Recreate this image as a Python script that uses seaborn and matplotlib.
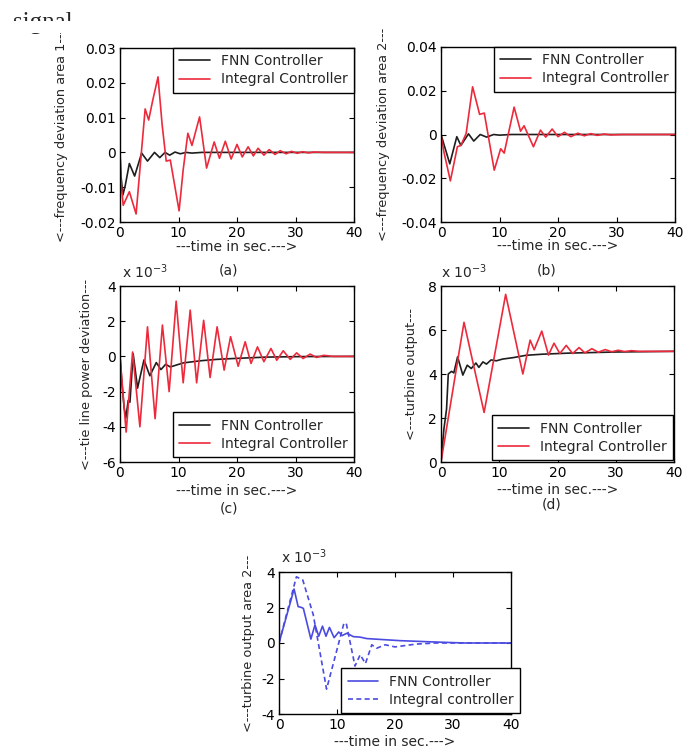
import numpy as np
import pandas as pd
import matplotlib
matplotlib.use("Agg")
import matplotlib.pyplot as plt
import seaborn as sns
from matplotlib.patches import Rectangle

# ---------------- data ----------------
x_ticks = [0, 10, 20, 30, 40]
x_tick_labels = ["0", "10", "20", "30", "40"]

# (a) frequency deviation area 1
a_fnn_t = [0, 0.15, 0.5, 0.9, 1.6, 2.5, 3.7, 4.7, 5.9, 6.8, 7.7, 8.5, 9.4, 10.3, 11.3, 12.3, 14, 40]
a_fnn_y = [0, -0.0065, -0.0122, -0.0095, -0.0032, -0.0068, -0.0002, -0.0025, 0, -0.0015, 0,
           -0.0008, 0.0001, -0.0004, 0, -0.0002, 0, 0]
a_int_t = [0, 0.15, 0.55, 1.6, 2.75, 3.5, 4.3, 4.9, 5.6, 6.5, 7.2, 7.9, 8.6, 9.3, 10.1, 10.8,
           11.6, 12.3, 13.6, 14.8, 16.1, 17.0, 18.0, 19.0, 20.0, 20.9, 21.9, 22.8, 23.6, 24.6,
           25.5, 26.5, 27.4, 28.4, 29.3, 30.3, 31.2, 32.2, 33.1, 35, 40]
a_int_y = [0, -0.008, -0.0152, -0.0113, -0.0177, -0.003, 0.0125, 0.0093, 0.015, 0.0217, 0.008,
           -0.0025, -0.0022, -0.009, -0.0168, -0.005, 0.0055, 0.002, 0.0102, -0.0045, 0.003,
           -0.0017, 0.0032, -0.0019, 0.0023, -0.0013, 0.0016, -0.001, 0.0012, -0.0008, 0.0008,
           -0.0006, 0.0005, -0.0004, 0.0003, -0.00025, 0.0002, -0.00015, 0.0001, 0, 0]
a_yticks = [-0.02, -0.01, 0, 0.01, 0.02, 0.03]
a_ytick_labels = ["-0.02", "-0.01", "0", "0.01", "0.02", "0.03"]

# (b) frequency deviation area 2
b_fnn_t = [0, 1.5, 2.7, 3.4, 4.7, 5.6, 6.7, 7.8, 9.0, 10, 12, 40]
b_fnn_y = [0, -0.0134, -0.001, -0.005, 0.0003, -0.003, 0, -0.0012, 0, -0.0003, 0, 0]
b_int_t = [0, 0.5, 1.6, 2.8, 3.4, 4.3, 5.4, 6.6, 7.4, 9.1, 10.2, 10.8, 12.5, 13.6, 14.2, 15.8,
           17.0, 17.9, 19.0, 20.0, 21.1, 22.2, 23.4, 24.5, 25.6, 26.7, 27.9, 29, 31, 40]
b_int_y = [0, -0.008, -0.0212, -0.0056, -0.005, 0.0005, 0.0218, 0.0092, 0.0098, -0.0163,
           -0.0065, -0.0085, 0.0125, 0.0015, 0.004, -0.0056, 0.002, -0.0012, 0.0025, -0.001,
           0.001, -0.001, 0.0006, -0.0006, 0.0004, -0.0004, 0.0002, -0.0002, 0, 0]
b_yticks = [-0.04, -0.02, 0, 0.02, 0.04]
b_ytick_labels = ["-0.04", "-0.02", "0", "0.02", "0.04"]

# (c) tie line power deviation (x 1e-3)
c_fnn_t = [0, 0.3, 0.7, 1.0, 1.4, 1.7, 2.25, 3.0, 4.1, 5.1, 6.2, 7.0, 7.8, 8.6, 10.8, 13.7,
           16.5, 19.4, 25, 31, 40]
c_fnn_y = [0, -1.4, -2.9, -3.5, -2.5, -2.6, 0.15, -1.8, -0.2, -1.1, -0.35, -0.75, -0.45, -0.6,
           -0.37, -0.25, -0.17, -0.12, -0.04, -0.01, 0]
c_int_t = [0, 1.05, 2.15, 3.4, 4.7, 6.0, 7.25, 8.4, 9.6, 10.8, 12.0, 13.1, 14.3, 15.4, 16.6,
           17.8, 18.9, 20.2, 21.4, 22.4, 23.5, 24.6, 25.8, 26.8, 27.9, 29.1, 30.2, 31.3, 32.5,
           33.6, 34.8, 36.5, 40]
c_int_y = [0, -4.3, 0.25, -4.0, 1.68, -3.54, 1.78, -2.0, 3.14, -1.5, 2.63, -1.5, 2.05, -1.2,
           1.68, -0.78, 1.12, -0.56, 0.83, -0.4, 0.54, -0.3, 0.45, -0.22, 0.32, -0.17, 0.2,
           -0.12, 0.13, -0.06, 0.06, 0, 0]
c_yticks = [-6, -4, -2, 0, 2, 4]
c_ytick_labels = ["-6", "-4", "-2", "0", "2", "4"]

# (d) turbine output (x 1e-3)
d_fnn_t = [0, 0.5, 0.95, 1.25, 1.8, 2.2, 2.85, 3.75, 4.5, 5.2, 6.0, 6.5, 7.2, 7.8, 8.6, 9.5,
           10.6, 12.3, 14.6, 17.4, 22, 30, 40]
d_fnn_y = [0, 1.5, 2.4, 4.0, 4.12, 4.05, 4.78, 3.95, 4.4, 4.25, 4.5, 4.3, 4.55, 4.45, 4.64,
           4.6, 4.68, 4.74, 4.85, 4.9, 4.95, 5.0, 5.03]
d_int_t = [0, 3.95, 7.4, 11.1, 14.05, 15.3, 16.0, 17.3, 18.45, 19.4, 20.4, 21.5, 22.6, 23.7,
           24.7, 25.9, 27.0, 28.2, 29.3, 30.4, 31.5, 32.7, 34, 40]
d_int_y = [0, 6.35, 2.25, 7.62, 4.0, 5.54, 5.1, 5.95, 4.86, 5.4, 4.93, 5.3, 4.93, 5.2, 4.96,
           5.15, 4.99, 5.11, 5.01, 5.08, 5.02, 5.06, 5.03, 5.03]
d_yticks = [0, 2, 4, 6, 8]
d_ytick_labels = ["0", "2", "4", "6", "8"]

# (e) turbine output area 2 (x 1e-3)
e_fnn_t = [0, 2.6, 3.3, 3.9, 4.2, 5.5, 6.2, 6.85, 7.5, 8.1, 8.7, 9.5, 10.3, 10.9, 11.7, 12.8,
           14, 15.1, 18, 21, 26.6, 32, 40]
e_fnn_y = [0, 3.04, 2.05, 2.0, 1.95, 0.22, 1.02, 0.38, 0.95, 0.38, 0.88, 0.3, 0.62, 0.42, 0.55,
           0.36, 0.33, 0.25, 0.19, 0.13, 0.06, 0, 0]
e_int_t = [0, 3.0, 4.1, 5.9, 8.2, 11.2, 11.6, 13.1, 14.0, 14.9, 16.0, 16.8, 18.3, 20.0, 23.7,
           27, 32, 40]
e_int_y = [0, 3.73, 3.55, 1.6, -2.6, 1.12, 1.1, -1.3, -0.66, -1.16, -0.1, -0.3, -0.1, -0.22,
           -0.06, 0, 0, 0]
e_yticks = [-4, -2, 0, 2, 4]
e_ytick_labels = ["-4", "-2", "0", "2", "4"]

# ---------------- style ----------------
sns.set_style("ticks")
plt.rcParams["font.family"] = ["DejaVu Sans"]
plt.rcParams["axes.linewidth"] = 1.0

RED = "#ec2a3c"
BLACK = "#1e1e1e"
BLUE = "#4b4be2"

W, H = 695, 750
fig = plt.figure(figsize=(W / 100, H / 100), dpi=100)
fig.patch.set_facecolor("white")


def add_ax(x0, y0, x1, y1):
    return fig.add_axes([x0 / W, 1 - y1 / H, (x1 - x0) / W, (y1 - y0) / H])


def style(ax, ylim, yticks, yticklabels, ylabel, ylab_x, xlab_y):
    ax.set_xlim(0, 40)
    ax.set_ylim(*ylim)
    ax.set_xticks(x_ticks)
    ax.set_xticklabels(x_tick_labels)
    ax.set_yticks(yticks)
    ax.set_yticklabels(yticklabels)
    ax.tick_params(direction="in", top=True, right=True, length=3.5, width=0.8,
                   labelsize=10, pad=3, colors="black")
    for s in ax.spines.values():
        s.set_visible(True)
        s.set_color("black")
        s.set_linewidth(1.0)
    ax.set_xlabel("---time in sec.--->", fontsize=10)
    ax.xaxis.set_label_coords(0.5, xlab_y)
    ax.set_ylabel(ylabel, fontsize=9.3)
    ax.yaxis.set_label_coords(ylab_x, 0.5)


def legend(ax, loc, anchor):
    leg = ax.legend(loc=loc, bbox_to_anchor=anchor, frameon=True, fancybox=False,
                    shadow=False, framealpha=1, edgecolor="black", fontsize=10,
                    handlelength=2.2, handletextpad=0.8, borderpad=0.45,
                    labelspacing=0.3, borderaxespad=0)
    leg.get_frame().set_linewidth(1.0)


def pair(ax, t1, y1, t2, y2, c1, c2, lab1, lab2, ls2="-"):
    sns.lineplot(x=t1, y=y1, ax=ax, color=c1, lw=1.2, label=lab1, estimator=None, sort=False)
    sns.lineplot(x=t2, y=y2, ax=ax, color=c2, lw=1.2, label=lab2, estimator=None, sort=False,
                 linestyle=ls2)


# (a)
ax = add_ax(120, 48, 354, 222)
pair(ax, a_fnn_t, a_fnn_y, a_int_t, a_int_y, BLACK, RED, "FNN Controller", "Integral Controller")
style(ax, (-0.02, 0.03), a_yticks, a_ytick_labels, "<---frequency deviation area 1---", -0.222, -0.105)
legend(ax, "upper right", (1.0, 1.0))

# (b)
ax = add_ax(441, 47, 675, 222)
pair(ax, b_fnn_t, b_fnn_y, b_int_t, b_int_y, BLACK, RED, "FNN Controller", "Integral Controller")
style(ax, (-0.04, 0.04), b_yticks, b_ytick_labels, "<---frequency deviation area 2---", -0.218, -0.1)
legend(ax, "upper right", (1.0, 1.0))

# (c)
ax = add_ax(120, 286, 354, 462)
pair(ax, c_fnn_t, c_fnn_y, c_int_t, c_int_y, BLACK, RED, "FNN Controller", "Integral Controller")
style(ax, (-6, 4), c_yticks, c_ytick_labels, "<---tie line power deviation---", -0.115, -0.125)
legend(ax, "lower right", (1.0, 0.028))
ax.text(0.01, 1.03, r"x 10$^{-3}$", transform=ax.transAxes, fontsize=10, ha="left", va="bottom")

# (d)
ax = add_ax(441, 286, 674, 462)
pair(ax, d_fnn_t, d_fnn_y, d_int_t, d_int_y, BLACK, RED, "FNN Controller", "Integral Controller")
style(ax, (0, 8), d_yticks, d_ytick_labels, "<---turbine output---", -0.099, -0.12)
legend(ax, "lower right", (0.996, 0.011))
ax.text(0.0, 1.03, r"x 10$^{-3}$", transform=ax.transAxes, fontsize=10, ha="left", va="bottom")

# (e)
ax = add_ax(279, 572, 511, 714)
pair(ax, e_fnn_t, e_fnn_y, e_int_t, e_int_y, BLUE, BLUE, "FNN Controller", "Integral controller",
     ls2=(0, (3, 2)))
style(ax, (-4, 4), e_yticks, e_ytick_labels, "<---turbine output area 2---", -0.103, -0.145)
legend(ax, "lower right", (1.039, 0.007))
ax.text(0.01, 1.04, r"x 10$^{-3}$", transform=ax.transAxes, fontsize=10, ha="left", va="bottom")

# panel captions
for lab, (px, py) in {"(a)": (229, 271), "(b)": (547, 270), "(c)": (229, 508), "(d)": (552, 505)}.items():
    fig.text(px / W, 1 - py / H, lab, ha="center", va="center", fontsize=10)

# clipped caption fragment at top
fig.text(13 / W, 1 - 29 / H, "signal", family=["Liberation Serif"], fontsize=18,
         ha="left", va="baseline")
fig.add_artist(Rectangle((0, 1 - 33 / H), 115 / W, 12 / H, transform=fig.transFigure,
                         facecolor="white", edgecolor="none", zorder=10))

fig.savefig("out.png", dpi=100, facecolor="white")
